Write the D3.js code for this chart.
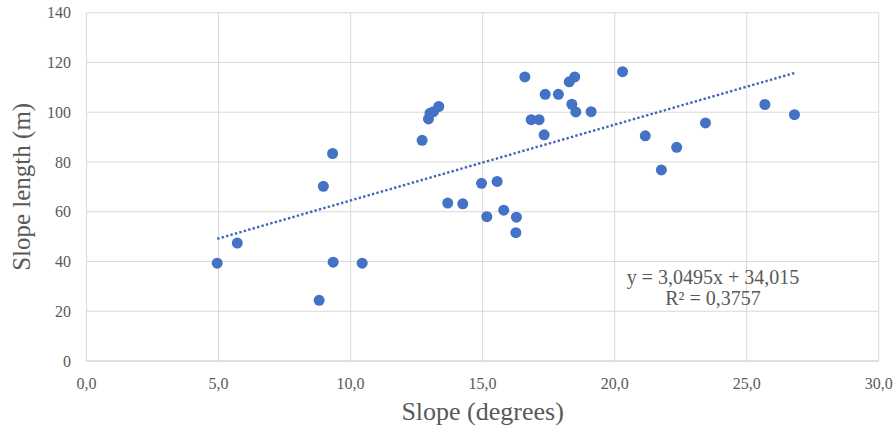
<!DOCTYPE html>
<html>
<head>
<meta charset="utf-8">
<script src="https://cdn.jsdelivr.net/npm/d3@7"></script>
<style>
  body { margin: 0; background: #fff; }
</style>
</head>
<body>
<svg id="chart" width="896" height="432"></svg>
<script>
// Slope (degrees) vs slope length (m)
const slopeDeg = [4.95, 5.71, 8.81, 8.97, 9.32, 9.34, 10.44, 12.71, 12.95, 13.01,
  13.14, 13.34, 13.68, 14.25, 14.96, 15.16, 15.55, 15.8, 16.26, 16.28,
  16.6, 16.84, 17.14, 17.33, 17.37, 17.87, 18.28, 18.38, 18.49, 18.53,
  19.11, 20.3, 21.16, 21.77, 22.35, 23.44, 25.69, 26.81];
const slopeLen = [39.3, 47.4, 24.4, 70.2, 83.4, 39.7, 39.3, 88.7, 97.3, 99.6,
  100.2, 102.3, 63.5, 63.2, 71.4, 58.0, 72.2, 60.6, 51.6, 57.8,
  114.2, 97.0, 97.0, 90.9, 107.2, 107.2, 112.2, 103.2, 114.2, 100.1,
  100.2, 116.3, 90.5, 76.8, 85.9, 95.7, 103.1, 99.0];
const xTicks = [0, 5, 10, 15, 20, 25, 30];
const yTicks = [0, 20, 40, 60, 80, 100, 120, 140];
const trendSlope = 3.0495;
const trendIntercept = 34.015;
const eqLines = ["y = 3,0495x + 34,015", "R² = 0,3757"];

const margin = { left: 86.5, right: 896 - 878.7, top: 12.7, bottom: 432 - 361 };
const W = 896, H = 432;
const svg = d3.select("#chart")
  .attr("font-family", "'Liberation Serif', 'Times New Roman', Tinos, 'DejaVu Serif', serif");

const x = d3.scaleLinear().domain([0, 30]).range([margin.left, W - margin.right]);
const y = d3.scaleLinear().domain([0, 140]).range([H - margin.bottom, margin.top]);

const comma = v => d3.format(".1f")(v).replace(".", ",");
const textGrey = "#595959";

// gridlines
svg.append("g")
  .selectAll("line.v")
  .data(xTicks)
  .join("line")
  .attr("x1", d => x(d)).attr("x2", d => x(d))
  .attr("y1", y(0)).attr("y2", y(140))
  .attr("stroke", "#d9d9d9").attr("stroke-width", 1);

svg.append("g")
  .selectAll("line.h")
  .data(yTicks.filter(d => d > 0))
  .join("line")
  .attr("x1", x(0)).attr("x2", x(30))
  .attr("y1", d => y(d)).attr("y2", d => y(d))
  .attr("stroke", "#d9d9d9").attr("stroke-width", 1);

// bottom axis line
svg.append("line")
  .attr("x1", x(0)).attr("x2", x(30))
  .attr("y1", y(0)).attr("y2", y(0))
  .attr("stroke", "#bfbfbf").attr("stroke-width", 1);

// tick labels
svg.append("g")
  .selectAll("text")
  .data(xTicks)
  .join("text")
  .attr("x", d => x(d))
  .attr("y", 389)
  .attr("text-anchor", "middle")
  .attr("fill", textGrey)
  .style("font-size", "16px")
  .text(d => comma(d));

svg.append("g")
  .selectAll("text")
  .data(yTicks)
  .join("text")
  .attr("x", 71)
  .attr("y", d => y(d))
  .attr("dy", "0.35em")
  .attr("text-anchor", "end")
  .attr("fill", textGrey)
  .style("font-size", "16px")
  .text(d => d);

// trendline (dotted)
const xMin = d3.min(slopeDeg), xMax = d3.max(slopeDeg);
svg.append("line")
  .attr("x1", x(xMin)).attr("y1", y(trendSlope * xMin + trendIntercept))
  .attr("x2", x(xMax)).attr("y2", y(trendSlope * xMax + trendIntercept))
  .attr("stroke", "#3f67b3")
  .attr("stroke-width", 2.4)
  .attr("stroke-dasharray", "2.4 2.2");

// points
svg.append("g")
  .selectAll("circle")
  .data(slopeDeg.map((d, i) => [d, slopeLen[i]]))
  .join("circle")
  .attr("cx", d => x(d[0]))
  .attr("cy", d => y(d[1]))
  .attr("r", 5.5)
  .attr("fill", "#4472c4");

// equation label
svg.append("g")
  .selectAll("text")
  .data(eqLines)
  .join("text")
  .attr("x", 713)
  .attr("y", (d, i) => 284 + i * 21)
  .attr("text-anchor", "middle")
  .attr("fill", textGrey)
  .style("font-size", "20px")
  .text(d => d);

// axis titles
svg.append("text")
  .attr("x", x(15))
  .attr("y", 420)
  .attr("text-anchor", "middle")
  .attr("fill", textGrey)
  .style("font-size", "26px")
  .text("Slope (degrees)");

svg.append("text")
  .attr("transform", "translate(30," + y(70) + ") rotate(-90)")
  .attr("text-anchor", "middle")
  .attr("fill", textGrey)
  .style("font-size", "25px")
  .text("Slope length (m)");
</script>
</body>
</html>
